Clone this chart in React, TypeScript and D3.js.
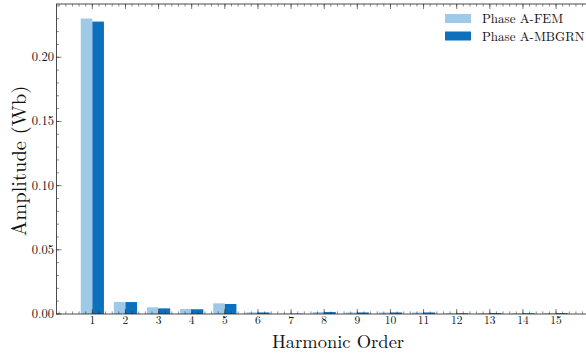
import React from "react";
import * as d3 from "d3";

const harmonics = [1, 2, 3, 4, 5, 6, 7, 8, 9, 10, 11, 12, 13, 14, 15];
const femValues = [0.2302, 0.0094, 0.0052, 0.0039, 0.0083, 0.0013, 0.0003, 0.0015, 0.0012, 0.0012, 0.0012, 0.0006, 0.0008, 0.0006, 0.0007];
const mbgrnValues = [0.2278, 0.0093, 0.0044, 0.0037, 0.0078, 0.0012, 0.0003, 0.0015, 0.0012, 0.0012, 0.0012, 0.0006, 0.0008, 0.0006, 0.0007];
const seriesNames = ["Phase A-FEM", "Phase A-MBGRN"];
const yTicks = [0, 0.05, 0.1, 0.15, 0.2];

const colors = ["#9ecae7", "#0c70bd"];
const FONT = "'Latin Modern Roman', 'CMU Serif', 'Liberation Serif', 'DejaVu Serif', serif";

export default function App() {
  const W = 586;
  const H = 353;
  const left = 56.4;
  const right = 592;
  const top = 4;
  const bottom = 314;
  const barW = 0.35;

  const x = d3.scaleLinear().domain([-0.085, 16.085]).range([left, right]);
  const y = d3.scaleLinear().domain([0, 0.2415]).range([bottom, top]);

  const xMinor = d3.range(0, 81).map((i) => i * 0.2).filter((v) => v >= -0.085 && v <= 16.085);
  const yMinor = d3.range(0, 25).map((i) => i * 0.01);

  const major = 5;
  const minor = 2.6;
  const axisColor = "#222";

  return (
    <svg width={W} height={H} style={{ position: "absolute", left: 0, top: 0, background: "#fff" }}>
      <defs>
        <clipPath id="plotArea">
          <rect x={left} y={top} width={right - left} height={bottom - top} />
        </clipPath>
      </defs>
      <g clipPath="url(#plotArea)">
        {harmonics.map((h, i) => (
          <g key={h}>
            <rect x={x(h - barW)} y={y(femValues[i])} width={x(h) - x(h - barW)} height={y(0) - y(femValues[i])} fill={colors[0]} />
            <rect x={x(h)} y={y(mbgrnValues[i])} width={x(h + barW) - x(h)} height={y(0) - y(mbgrnValues[i])} fill={colors[1]} />
          </g>
        ))}
      </g>

      {/* frame */}
      <rect x={left} y={top} width={right - left} height={bottom - top} fill="none" stroke={axisColor} strokeWidth={0.8} />

      {/* x ticks, inward on bottom and top */}
      {xMinor.map((v, i) => (
        <g key={"xm" + i} stroke={axisColor} strokeWidth={0.5}>
          <line x1={x(v)} x2={x(v)} y1={bottom} y2={bottom - minor} />
          <line x1={x(v)} x2={x(v)} y1={top} y2={top + minor} />
        </g>
      ))}
      {harmonics.map((h) => (
        <g key={"xt" + h}>
          <line x1={x(h)} x2={x(h)} y1={bottom} y2={bottom - major} stroke={axisColor} strokeWidth={0.6} />
          <line x1={x(h)} x2={x(h)} y1={top} y2={top + major} stroke={axisColor} strokeWidth={0.6} />
          <text x={x(h)} y={bottom + 10} textAnchor="middle" fontFamily={FONT} fontSize={11.5} fill="#111">
            {h}
          </text>
        </g>
      ))}

      {/* y ticks, inward on left and right */}
      {yMinor.map((v, i) => (
        <g key={"ym" + i} stroke={axisColor} strokeWidth={0.5}>
          <line x1={left} x2={left + minor} y1={y(v)} y2={y(v)} />
          <line x1={right} x2={right - minor} y1={y(v)} y2={y(v)} />
        </g>
      ))}
      {yTicks.map((t) => (
        <g key={"yt" + t}>
          <line x1={left} x2={left + major} y1={y(t)} y2={y(t)} stroke={axisColor} strokeWidth={0.6} />
          <line x1={right} x2={right - major} y1={y(t)} y2={y(t)} stroke={axisColor} strokeWidth={0.6} />
          <text x={left - 2.5} y={y(t) + 4} textAnchor="end" fontFamily={FONT} fontSize={12.5} fill="#111">
            {d3.format(".2f")(t)}
          </text>
        </g>
      ))}

      {/* axis titles */}
      <text x={338} y={348} textAnchor="middle" fontFamily={FONT} fontSize={18.5} fill="#111">
        Harmonic Order
      </text>
      <text transform={`translate(26,${(top + bottom) / 2 + 2}) rotate(-90)`} textAnchor="middle" fontFamily={FONT} fontSize={20.5} fill="#111">
        Amplitude (Wb)
      </text>

      {/* legend */}
      {seriesNames.map((name, i) => (
        <g key={name}>
          <rect x={445} y={14 + i * 17.5} width={26} height={9} fill={colors[i]} />
          <text x={482} y={23 + i * 17.5} fontFamily={FONT} fontSize={13} fill="#111">
            {name}
          </text>
        </g>
      ))}
    </svg>
  );
}
